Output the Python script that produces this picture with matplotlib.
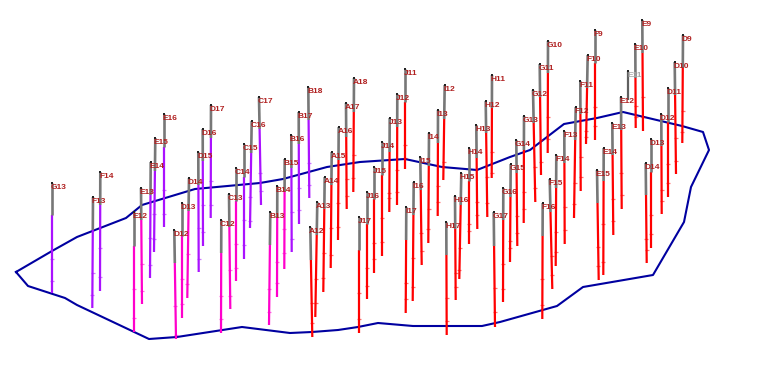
import matplotlib
matplotlib.use("Agg")
import matplotlib.pyplot as plt
import numpy as np

plt.rcParams['font.family'] = ['Liberation Sans', 'DejaVu Sans']

labels = ["G13","F13","F14","E12","E13","E14","E15","E16","D12","D13","D14","D15","D16","D17",
          "C12","C13","C14","C15","C16","C17","B13","B14","B15","B16","B17","B18",
          "A12","A13","A14","A15","A16","A17","A18","J17","J16","J15","J14","J13","J12","J11",
          "I17","I16","I15","I14","I13","I12","H17","H16","H15","H14","H13","H12","H11",
          "G17","G16","G15","G14","G13","G12","G11","G10","F16","F15","F14","F13","F12","F11","F10","F9",
          "E15","E14","E13","E12","E11","E10","E9","D14","D13","D12","D11","D10","D9"]
top_x = [52,93,100.3,133.7,141,150.7,155.3,163.7,174.3,181.7,189,198.3,202.7,211,
         221.3,229,236,244,251.7,259,270.3,277.3,284.7,291.3,298.7,308.3,
         310.3,317.3,324.7,331.7,338.7,346,354,359,366.7,374.3,382,389.7,397.3,405,
         406.3,413.7,420.3,429,438,444.7,446.3,455,461.3,469,476.3,485.7,492,
         493.7,503.3,510.7,516.3,524,533,539.7,548,542.7,549.7,556.3,564.3,575.7,580.3,587.7,595,
         597,603.7,612.3,621,628.3,635.3,642.3,645.7,651.3,661.3,668,674.7,683]
top_y = [183,197,172,212,188,162,138,114,230,203,178,152,129,105,
         220,194,168,144,121,97,212,186,159,135,112,87,
         227,202,177,152,127,103,78,217,192,167,142,118,94,69,
         207,182,157,133,110,85,222,196,173,148,125,101,75,
         212,188,164,140,116,90,64,41,203,179,155,131,107,81,55,30,
         170,148,123,97,71,44,20,163,139,114,88,62,35]
grey_y = [215,230,205,246,220,195,171,147,263,236,211,185,161,138,
          253,227,201,177,153,129,245,218,192,168,144,120,
          260,235,209,185,160,137,112,250,224,199,175,152,127,102,
          240,215,190,166,143,119,255,229,205,181,158,133,108,
          246,220,197,173,150,123,97,73,236,212,188,163,140,114,88,63,
          203,181,155,130,100,78,53,195,172,146,122,95,68]
bot_x = [52,92.3,100,133.7,142,150,154,163.7,176,181.7,187.3,198.7,203,210.7,
         221,230.3,236,244,250,261,269,277,284.3,291.7,299,309.3,
         312.3,315.3,323.3,330.7,338,346.7,353.3,359,366.7,374.3,382,389.3,397,405,
         405.7,412.7,421.7,428.3,437.7,443.3,446.7,455.7,459.3,469,477.3,487.3,491.7,
         495,503,510,517.3,523.7,535.3,541,547.7,542.3,552.3,555.7,564.7,574,580.7,586,595,
         598.7,603.3,613.3,621.7,628.3,635.7,643,646.7,651.3,661.7,668,676,682.3]
bot_y = [293,308,291,332,304,278,252,227,339,318,298,272,246,218,
         333,309,281,259,228,205,325,297,269,252,224,198,
         337,317,292,268,240,209,192,333,299,273,256,212,205,169,
         313,301,265,243,216,180,335,300,279,244,229,217,178,
         327,302,262,246,223,202,175,153,319,289,266,244,218,191,144,140,
         280,275,235,209,100,128,131,263,248,214,197,174,143]
mark_a = [259,273,248,289,264,238,214,190,306,279,254,228,205,181,
          296,270,244,220,197,173,289,262,229,212,188,163,
          303,279,253,228,203,179,155,293,268,243,218,193,170,145,
          283,258,233,209,186,162,298,273,248,224,202,177,152,
          288,264,241,216,192,167,140,117,279,256,232,207,183,157,131,107,
          247,224,199,173,100,106,97,239,215,190,164,138,111]
mark_b = [281,295,277,318,291,265,239,214,335,304,284,259,232,205,
          319,296,268,245,221,191,312,283,253,239,210,185,
          323,303,278,255,227,196,178,319,286,259,242,198,192,158,
          299,287,251,229,202,167,321,287,270,231,215,203,173,
          312,289,248,233,209,188,162,139,305,275,252,230,204,177,137,126,
          266,262,221,195,100,117,117,250,234,201,183,161,132]
# 0 purple, 1 magenta, 2 red, 3 grey only
kind = [0,0,0,1,1,0,0,0,1,1,1,0,0,0,
        1,1,1,0,0,0,1,1,1,0,0,0,
        2,2,2,2,2,2,2,2,2,2,2,2,2,2,
        2,2,2,2,2,2,2,2,2,2,2,2,2,
        2,2,2,2,2,2,2,2,2,2,2,2,2,2,2,2,
        2,2,2,2,3,2,2,2,2,2,2,2,2]
palette = ['#aa11ff', '#ff00cc', '#ff0000', '#606060']
outline_x = [16,28,65,77,149,177,242,290,312,338,358,378,413,482,500,557,583,653,684,691,709,703,682,623,597,564,530,510,477,442,405,360,327,283,260,195,142,126,77,52,16]
outline_y = [272,286,298,305,339,337,327,333,332,330,327,323,326,326,322,306,287,275,222,187,150,132,126,112,118,124,150,157,170,167,159,162,167,179,183,189,205,218,237,251,272]

fig = plt.figure(figsize=(7.66, 3.74), dpi=100)
ax = fig.add_axes([0, 0, 1, 1])
ax.set_xlim(0, 766)
ax.set_ylim(374, 0)
ax.axis('off')

ax.plot(outline_x, outline_y, color='#0000a0', lw=1.5, zorder=2, solid_joinstyle='round')

for i, name in enumerate(labels):
    xt, yt, yg, xb, yb = top_x[i], top_y[i], grey_y[i], bot_x[i], bot_y[i]
    xg = np.interp(yg, [yt, yb], [xt, xb])
    c = palette[kind[i]]
    if kind[i] == 3:
        ax.plot([xt, xb], [yt, yb], color=c, lw=1.6, zorder=3, solid_capstyle='butt')
        lab_col = '#a8a8a8'
    else:
        ax.plot([xg, xb], [yg, yb], color=c, lw=1.6, zorder=3, solid_capstyle='butt')
        ax.plot([xt, xg], [yt, yg], color='#777777', lw=1.9, zorder=3, solid_capstyle='butt')
        ym = [mark_a[i], mark_b[i]]
        xm = np.interp(ym, [yt, yb], [xt, xb])
        ax.plot(xm, ym, ls='none', marker='_', ms=3.0, mew=0.9, color=c, alpha=0.55, zorder=3)
        lab_col = '#b02020'
    ax.plot([xt], [yt], ls='none', marker='s', ms=1.5, mew=0, color='#222222', zorder=4)
    ax.text(xt - 1.3, yt + 4.5, name, fontsize=6.0, fontweight='bold', color=lab_col, ha='left', va='center', zorder=5)

fig.savefig('out.png', dpi=100)
